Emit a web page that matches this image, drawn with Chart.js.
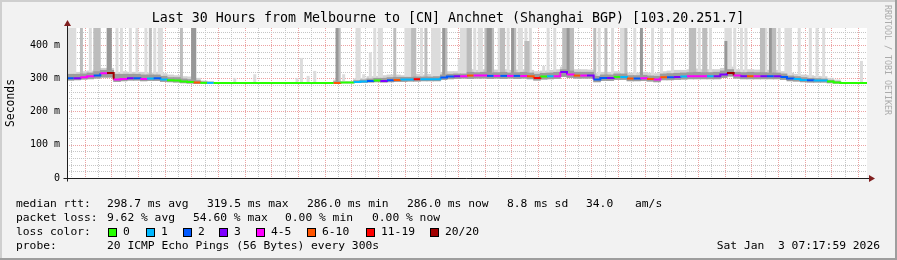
<!DOCTYPE html>
<html>
<head>
<meta charset="utf-8">
<title>Last 30 Hours from Melbourne to [CN] Anchnet (Shanghai BGP)</title>
<script src="https://cdn.jsdelivr.net/npm/chart.js@4.4.1/dist/chart.umd.min.js"></script>
<style>
  html, body { margin: 0; padding: 0; background: #f2f2f2; }
  canvas { display: block; }
</style>
</head>
<body>
<canvas id="rrd" width="897" height="260"></canvas>
<script>
// time axis in minutes since Fri 00:00
const startMin = 80;      // Fri 01:20
const endMin = 1880;      // Sat 07:20
const binMinutes = 15;    // median / smoke band bins
const stepMinutes = 5;    // probe step (300s)
const dayNames = ['Fri', 'Sat'];

// median rtt per 15 min bin (ms)
const medianRtt = [
  300,300,303,306,308,315,316,296,298,300,
  300,298,299,300,296,294,293,290,289,287,
  286,286,286,286,286,286,286,286,286,286,
  286,286,286,286,286,286,286,286,286,286,
  286,287,287,289,290,292,293,292,294,295,
  296,296,297,297,297,297,302,305,306,306,
  308,308,308,307,307,307,307,307,307,306,
  301,305,306,306,319,311,308,308,308,296,
  301,301,304,304,299,299,300,298,296,303,
  303,304,305,306,306,306,306,306,311,316,
  308,306,306,306,306,306,306,304,299,298,
  295,294,293,293,290,287,286,286,286,286
];
const nowRtt = 286.0;

// loss bin per 15 min bin (index into lossLabels)
const lossBin = [
  2,3,4,4,2,4,7,4,4,3,
  2,4,1,2,1,0,0,0,0,5,
  0,1,0,0,0,0,0,0,0,0,
  0,0,0,0,0,0,0,0,0,0,
  5,0,0,1,1,2,0,3,2,5,
  1,1,6,1,1,1,2,2,3,4,
  5,4,4,2,4,2,4,2,4,5,
  6,0,1,4,3,4,5,4,3,2,
  2,3,0,1,5,2,4,5,4,5,
  2,3,1,4,4,4,1,3,3,7,
  4,3,5,4,3,2,3,2,2,1,
  1,2,1,1,0,0,0,0,0,0
];

// smoke around the median: lowest ping, top of dense smoke, top of light smoke
const smokeLo = [
  294,295,297,298,300,303,303,290,292,294,
  294,292,293,293,290,289,288,286,285,284,
  285,285,286,286,286,286,286,286,286,286,
  286,286,286,286,286,286,286,286,286,286,
  284,286,286,287,287,288,289,288,289,290,
  290,291,291,292,292,292,296,298,299,300,
  299,300,300,299,300,299,300,299,300,298,
  294,297,298,299,305,302,300,300,300,289,
  293,293,296,296,292,292,293,291,289,295,
  295,296,297,298,298,298,298,298,302,306,
  300,298,298,298,298,298,298,296,292,291,
  289,288,288,288,286,285,286,286,286,286
];
const smokeDense = [
  312,312,313,316,320,324,324,312,312,312,
  312,310,310,310,306,302,302,298,296,293,
  289,288,286,286,286,286,286,286,286,286,
  286,286,286,286,286,286,286,286,286,286,
  290,288,288,293,295,298,300,300,302,303,
  303,303,304,304,304,305,310,312,313,313,
  318,317,318,316,317,318,316,317,318,316,
  312,315,316,318,326,322,318,318,318,306,
  310,310,313,313,308,308,309,307,306,313,
  314,315,316,317,318,317,317,318,322,326,
  318,317,318,317,317,316,316,313,307,305,
  302,300,299,298,294,290,286,286,286,286
];
const smokeHalo = [
  322,318,320,322,326,330,330,318,320,318,
  318,318,316,318,314,310,308,305,304,300,
  292,290,286,286,286,286,286,286,286,286,
  286,286,286,286,286,286,286,286,286,286,
  295,290,290,298,300,305,306,308,310,310,
  308,310,312,310,312,312,318,320,320,322,
  326,324,326,324,325,326,324,325,326,324,
  320,322,324,326,334,330,326,326,325,314,
  318,318,320,322,316,316,318,316,314,320,
  322,324,324,326,328,326,326,326,330,334,
  326,325,326,325,326,324,324,320,316,312,
  310,308,306,305,300,295,286,286,286,286
];

// outlier pings: 5 min step index, highest ping (ms), number of pings that high
const spikeStep = [
  0,1,2,3,6,10,12,13,14,18,19,22,24,28,31,35,37,39,41,42,51,56,57,
  75,84,103,105,108,111,121,122,124,130,131,133,136,138,140,141,147,
  152,153,154,155,156,159,161,164,165,166,167,169,170,176,177,178,179,
  180,181,183,185,186,188,189,190,191,194,195,196,198,200,201,203,204,
  206,206,207,208,214,216,219,223,224,225,226,227,237,239,242,245,249,
  250,251,255,258,263,267,272,280,281,282,284,286,287,289,296,296,297,
  298,300,303,305,312,313,314,316,317,318,320,323,324,325,329,334,337,
  340,357
];
const spikeTop = [
  460,460,460,460,460,460,460,460,460,460,460,460,460,460,460,460,460,460,460,460,460,460,460,
  300,311,300,360,306,321,460,460,311,460,460,311,377,460,460,460,460,
  460,460,460,460,460,460,460,460,460,460,460,460,460,356,460,460,460,
  460,460,460,460,460,460,460,460,460,460,460,460,460,460,460,460,460,
  460,411,411,460,336,460,460,460,460,460,460,460,460,460,460,460,460,
  460,460,460,460,460,460,460,460,460,460,460,460,460,460,460,411,460,
  460,460,460,460,460,460,460,460,460,460,460,460,460,460,460,460,460,
  460,351
];
const spikeDepth = [
  1,1,1,1,3,1,3,3,3,6,6,1,1,1,1,1,3,1,1,1,3,6,6,
  1,1,1,1,1,1,6,3,1,1,1,1,1,1,1,1,3,
  1,1,1,3,3,1,3,1,1,1,1,6,3,1,1,1,1,
  3,3,1,1,1,3,6,6,3,1,3,3,1,6,3,1,1,
  1,3,3,1,1,1,1,3,3,6,3,3,3,1,3,1,1,
  1,3,1,6,1,1,1,3,3,3,1,3,3,1,1,6,1,
  1,1,1,1,3,3,1,6,3,3,1,1,1,1,1,1,1,
  1,1
];

const lossLabels = ['0', '1', '2', '3', '4-5', '6-10', '11-19', '20/20'];
const lossColors = ['#26ff00', '#00b8ff', '#0059ff', '#7e00ff', '#ff00ff', '#ff5500', '#ff0000', '#a10000'];

const rttStats = ['298.7 ms avg', '319.5 ms max', '286.0 ms min', '286.0 ms now', '8.8 ms sd', '34.0', 'am/s'];
const lossStats = ['9.62 % avg', '54.60 % max', '0.00 % min', '0.00 % now'];
const probeText = '20 ICMP Echo Pings (56 Bytes) every 300s';
const dateText = 'Sat Jan  3 07:17:59 2026';
const titleText = 'Last 30 Hours from Melbourne to [CN] Anchnet (Shanghai BGP) [103.20.251.7]';

const MONO = "'DejaVu Sans Mono', monospace";
const majorGrid = '#eca2a2';
const minorGrid = '#c6c6c6';

// builders
const binX = i => startMin + (i + 0.5) * binMinutes;
const stepX = k => startMin + (k + 0.5) * stepMinutes;

function band(lo, hi) {
    return hi.map((v, i) => ({x: binX(i), y: [lo[i], v]}));
}

function spikes(minDepth, maxDepth) {
    const out = [];
    spikeStep.forEach((k, j) => {
        if (spikeDepth[j] < minDepth || spikeDepth[j] > maxDepth) return;
        const base = smokeDense[Math.floor(k * stepMinutes / binMinutes)];
        out.push({x: stepX(k), y: [base, spikeTop[j]]});
    });
    return out;
}

const medianPts = medianRtt.map((v, i) => ({x: startMin + i * binMinutes, y: v}));
medianPts.push({x: endMin, y: nowRtt});

function barSet(data, color, thickness, order) {
    return {type: 'bar', data, backgroundColor: color, borderWidth: 0,
            barThickness: thickness, grouped: false, clip: 0, order};
}

function clock(m) {
    const h = Math.floor((m % 1440) / 60);
    return dayNames[Math.floor(m / 1440)] + ' ' + String(h).padStart(2, '0') + ':00';
}

// background, dotted grid, frame, axes with arrows and all the rrd texts
const rrdDecor = {
    id: 'rrdDecor',
    beforeDraw(chart) {
        const {ctx, width, height, chartArea: a} = chart;
        ctx.save();
        ctx.fillStyle = '#f2f2f2';
        ctx.fillRect(0, 0, width, height);
        ctx.fillStyle = '#cfcfcf';
        ctx.fillRect(0, 0, width, 2);
        ctx.fillRect(0, 0, 2, height);
        ctx.fillStyle = '#9e9e9e';
        ctx.fillRect(0, height - 2, width, 2);
        ctx.fillRect(width - 2, 0, 2, height);
        ctx.fillStyle = '#ffffff';
        ctx.fillRect(a.left, a.top, a.right - a.left, a.bottom - a.top);
        ctx.restore();
    },
    beforeDatasetsDraw(chart) {
        const {ctx, chartArea: a} = chart;
        const xs = chart.scales.x, ys = chart.scales.y;
        ctx.save();
        ctx.lineWidth = 1;
        ctx.setLineDash([1, 1]);
        const line = (x1, y1, x2, y2, color) => {
            ctx.strokeStyle = color;
            ctx.beginPath();
            ctx.moveTo(x1, y1);
            ctx.lineTo(x2, y2);
            ctx.stroke();
        };
        xs.ticks.forEach(t => {
            const px = Math.round(xs.getPixelForValue(t.value)) + 0.5;
            line(px, a.top, px, a.bottom, t.value % 60 === 0 ? majorGrid : minorGrid);
        });
        ys.ticks.forEach(t => {
            if (t.value === 0) return;
            const py = Math.round(ys.getPixelForValue(t.value)) + 0.5;
            line(a.left, py, a.right, py, t.value % 100 === 0 ? majorGrid : minorGrid);
        });
        ctx.restore();
    },
    afterDatasetsDraw(chart) {
        const {ctx} = chart;
        const xs = chart.scales.x, ys = chart.scales.y;
        const ax = Math.round(xs.getPixelForValue(startMin)) + 0.5;
        const ay = Math.round(ys.getPixelForValue(0)) + 0.5;
        const right = xs.getPixelForValue(endMin);
        ctx.save();
        ctx.strokeStyle = '#1f1f1f';
        ctx.lineWidth = 1;
        ctx.beginPath();
        ctx.moveTo(ax - 4, ay);
        ctx.lineTo(right + 2, ay);
        ctx.moveTo(ax, ay + 3);
        ctx.lineTo(ax, chart.chartArea.top - 3);
        ctx.stroke();
        ctx.fillStyle = '#801f1f';
        ctx.beginPath();
        ctx.moveTo(ax - 3.5, chart.chartArea.top - 2);
        ctx.lineTo(ax + 3.5, chart.chartArea.top - 2);
        ctx.lineTo(ax, chart.chartArea.top - 8);
        ctx.closePath();
        ctx.fill();
        ctx.beginPath();
        ctx.moveTo(right + 2, ay - 3.5);
        ctx.lineTo(right + 2, ay + 3.5);
        ctx.lineTo(right + 8, ay);
        ctx.closePath();
        ctx.fill();
        ctx.restore();
    },
    afterDraw(chart) {
        const {ctx} = chart;
        ctx.save();
        ctx.fillStyle = '#000';
        ctx.textBaseline = 'middle';

        ctx.font = '13.3px ' + MONO;
        ctx.textAlign = 'center';
        ctx.fillText(titleText, 448, 19);

        ctx.textAlign = 'left';
        ctx.font = '11.3px ' + MONO;
        // median rtt line
        ctx.fillText('median rtt:', 16, 204.5);
        [107, 207, 307, 407, 507, 586, 635].forEach((x, i) => ctx.fillText(rttStats[i], x, 204.5));
        // packet loss line
        ctx.fillText('packet loss:', 16, 218.5);
        [107, 193, 285, 372].forEach((x, i) => ctx.fillText(lossStats[i], x, 218.5));
        // loss colour legend
        ctx.fillText('loss color:', 16, 232.5);
        [108, 146, 183, 219, 256, 307, 366, 430].forEach((x, i) => {
            ctx.fillStyle = '#000';
            ctx.fillRect(x, 228, 9, 9);
            ctx.fillStyle = lossColors[i];
            ctx.fillRect(x + 1, 229, 7, 7);
            ctx.fillStyle = '#000';
            ctx.fillText(lossLabels[i], x + 15, 232.5);
        });
        // probe line
        ctx.fillText('probe:', 16, 246.5);
        ctx.fillText(probeText, 107, 246.5);
        ctx.textAlign = 'right';
        ctx.fillText(dateText, 880, 246.5);

        // watermark
        ctx.translate(887.5, 5);
        ctx.rotate(Math.PI / 2);
        ctx.textAlign = 'left';
        ctx.fillStyle = '#ababab';
        ctx.font = '8.3px ' + MONO;
        ctx.fillText('RRDTOOL / TOBI OETIKER', 0, 0);
        ctx.restore();
    }
};

Chart.defaults.font.family = MONO;

new Chart(document.getElementById('rrd'), {
    type: 'bar',
    data: {
        datasets: [
            {type: 'line', data: medianPts, stepped: true, borderWidth: 2, pointRadius: 0,
             fill: false, order: 1, borderColor: lossColors[0],
             segment: {borderColor: c => lossColors[lossBin[c.p0DataIndex]]}},
            barSet(band(smokeLo, smokeDense), '#9c9c9c', 6.8, 3),
            barSet(spikes(6, 99), '#979797', 2.3, 4),
            barSet(spikes(3, 5), '#bcbcbc', 2.3, 5),
            barSet(spikes(1, 2), '#dcdcdc', 2.3, 6),
            barSet(band(smokeLo, smokeHalo), '#d2d2d2', 6.8, 7)
        ]
    },
    options: {
        responsive: false,
        animation: false,
        events: [],
        devicePixelRatio: 1,
        layout: {padding: {left: 0, right: 30, top: 28, bottom: 82}},
        plugins: {legend: {display: false}, tooltip: {enabled: false}, title: {display: false}},
        scales: {
            x: {
                type: 'linear', min: startMin, max: endMin, offset: false,
                afterFit: s => { s.height = 0; },
                afterBuildTicks: s => {
                    const t = [];
                    for (let m = 90; m < endMin; m += 30) t.push({value: m});
                    s.ticks = t;
                },
                grid: {display: false, drawTicks: false},
                border: {display: false},
                ticks: {autoSkip: false, maxRotation: 0, minRotation: 0, padding: 4, color: '#000',
                        font: {size: 9.7},
                        callback: v => v % 180 === 0 ? clock(v) : ''}
            },
            y: {
                min: 0, max: 451,
                afterFit: s => { s.width = 67; },
                afterBuildTicks: s => {
                    const t = [];
                    for (let v = 0; v <= 440; v += 20) t.push({value: v});
                    s.ticks = t;
                },
                grid: {display: false, drawTicks: false},
                border: {display: false},
                title: {display: true, text: 'Seconds', color: '#000', font: {size: 11.4},
                        padding: {top: 4, bottom: 0}},
                ticks: {autoSkip: false, padding: 7, color: '#000', font: {size: 10},
                        callback: v => v % 100 === 0 ? (v === 0 ? '0' : v + ' m') : ''}
            }
        }
    },
    plugins: [rrdDecor]
});
</script>
</body>
</html>
